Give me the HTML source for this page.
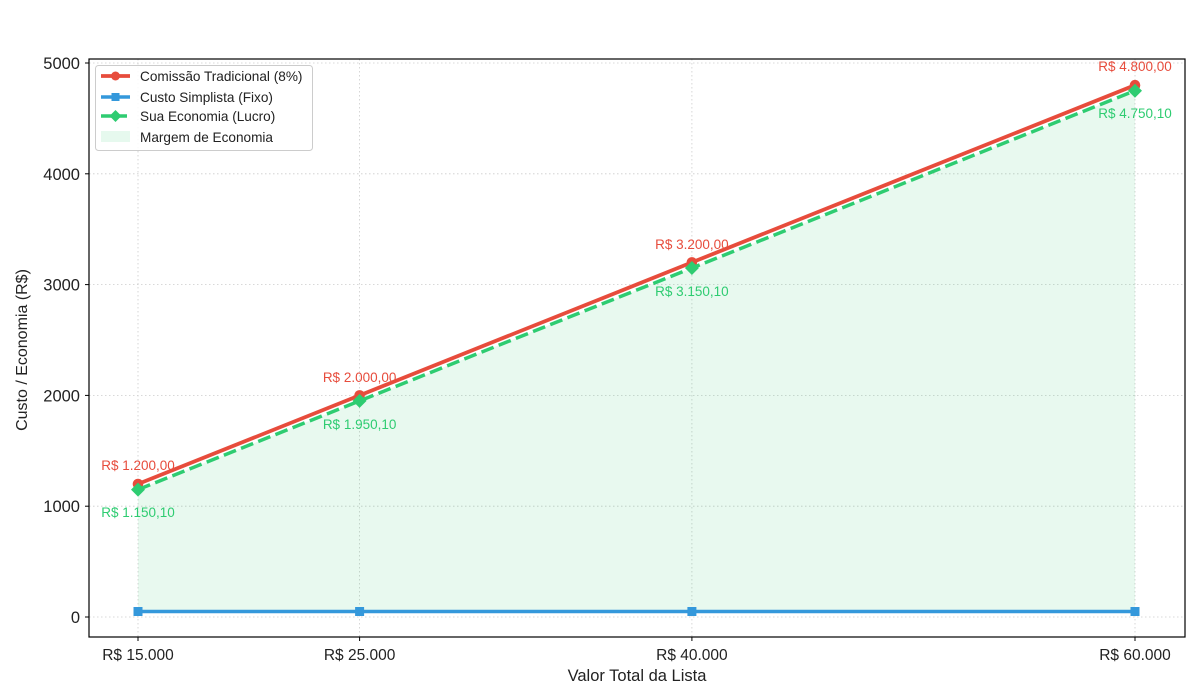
<!DOCTYPE html>
<html><head><meta charset="utf-8"><style>
html,body{margin:0;padding:0;background:#fff;}
svg{display:block;font-family:"Liberation Sans",sans-serif;}
</style></head><body>
<svg width="1200" height="700" viewBox="0 0 1200 700" xmlns="http://www.w3.org/2000/svg">
<rect width="1200" height="700" fill="#fff"/>
<!-- grid -->
<g stroke="#cccccc" stroke-width="0.8" stroke-dasharray="1.5,2.5">
<line x1="138" y1="59" x2="138" y2="637"/>
<line x1="359.6" y1="59" x2="359.6" y2="637"/>
<line x1="691.9" y1="59" x2="691.9" y2="637"/>
<line x1="1135" y1="59" x2="1135" y2="637"/>
<line x1="89" y1="617" x2="1185" y2="617"/>
<line x1="89" y1="506.2" x2="1185" y2="506.2"/>
<line x1="89" y1="395.4" x2="1185" y2="395.4"/>
<line x1="89" y1="284.6" x2="1185" y2="284.6"/>
<line x1="89" y1="173.8" x2="1185" y2="173.8"/>
<line x1="89" y1="63" x2="1185" y2="63"/>
</g>
<!-- fill -->
<polygon points="138,489.6 359.6,400.9 691.9,268 1135,90.7 1135,611.5 691.9,611.5 359.6,611.5 138,611.5" fill="#2ecc71" fill-opacity="0.11"/>
<!-- blue -->
<polyline points="138,611.5 359.6,611.5 691.9,611.5 1135,611.5" fill="none" stroke="#3498db" stroke-width="3.5"/>
<g fill="#3498db">
<rect x="133.5" y="607" width="9" height="9"/>
<rect x="355.1" y="607" width="9" height="9"/>
<rect x="687.4" y="607" width="9" height="9"/>
<rect x="1130.5" y="607" width="9" height="9"/>
</g>
<!-- red -->
<polyline points="138,484 359.6,395.4 691.9,262.4 1135,85.2" fill="none" stroke="#e74c3c" stroke-width="3.8"/>
<g fill="#e74c3c">
<circle cx="138" cy="484" r="5.3"/>
<circle cx="359.6" cy="395.4" r="5.3"/>
<circle cx="691.9" cy="262.4" r="5.3"/>
<circle cx="1135" cy="85.2" r="5.3"/>
</g>
<!-- green -->
<polyline points="138,489.6 359.6,400.9 691.9,268 1135,90.7" fill="none" stroke="#2ecc71" stroke-width="3.5" stroke-dasharray="13,5.5"/>
<g fill="#2ecc71">
<polygon points="138,482.6 145,489.6 138,496.6 131,489.6"/>
<polygon points="359.6,393.9 366.6,400.9 359.6,407.9 352.6,400.9"/>
<polygon points="691.9,261 698.9,268 691.9,275 684.9,268"/>
<polygon points="1135,83.7 1142,90.7 1135,97.7 1128,90.7"/>
</g>
<!-- data labels -->
<g font-size="13.5" text-anchor="middle" fill="#e74c3c">
<text x="138" y="470">R$ 1.200,00</text>
<text x="359.6" y="382">R$ 2.000,00</text>
<text x="691.9" y="249">R$ 3.200,00</text>
<text x="1135" y="71">R$ 4.800,00</text>
</g>
<g font-size="13.5" text-anchor="middle" fill="#2ecc71">
<text x="138" y="517">R$ 1.150,10</text>
<text x="359.6" y="429">R$ 1.950,10</text>
<text x="691.9" y="296">R$ 3.150,10</text>
<text x="1135" y="118">R$ 4.750,10</text>
</g>
<!-- axes frame -->
<rect x="89" y="59" width="1096" height="578" fill="none" stroke="#000" stroke-width="1.2"/>
<!-- ticks -->
<g stroke="#000" stroke-width="1">
<line x1="138" y1="637" x2="138" y2="641"/>
<line x1="359.6" y1="637" x2="359.6" y2="641"/>
<line x1="691.9" y1="637" x2="691.9" y2="641"/>
<line x1="1135" y1="637" x2="1135" y2="641"/>
<line x1="85" y1="617" x2="89" y2="617"/>
<line x1="85" y1="506.2" x2="89" y2="506.2"/>
<line x1="85" y1="395.4" x2="89" y2="395.4"/>
<line x1="85" y1="284.6" x2="89" y2="284.6"/>
<line x1="85" y1="173.8" x2="89" y2="173.8"/>
<line x1="85" y1="63" x2="89" y2="63"/>
</g>
<g font-size="15.5" fill="#222" text-anchor="middle">
<text x="138" y="660">R$ 15.000</text>
<text x="359.6" y="660">R$ 25.000</text>
<text x="691.9" y="660">R$ 40.000</text>
<text x="1135" y="660">R$ 60.000</text>
</g>
<g font-size="16.5" fill="#222" text-anchor="end">
<text x="80" y="623">0</text>
<text x="80" y="512.2">1000</text>
<text x="80" y="401.4">2000</text>
<text x="80" y="290.6">3000</text>
<text x="80" y="179.8">4000</text>
<text x="80" y="69">5000</text>
</g>
<text x="637" y="681" font-size="16.5" fill="#222" text-anchor="middle">Valor Total da Lista</text>
<text transform="translate(27,350) rotate(-90)" font-size="16" fill="#222" text-anchor="middle">Custo / Economia (R$)</text>
<!-- legend -->
<rect x="95.5" y="65.5" width="217" height="85" rx="3" fill="#fff" fill-opacity="0.85" stroke="#cccccc" stroke-width="1"/>
<line x1="101" y1="76" x2="130" y2="76" stroke="#e74c3c" stroke-width="3.8"/>
<circle cx="115.5" cy="76" r="4.5" fill="#e74c3c"/>
<line x1="101" y1="97" x2="130" y2="97" stroke="#3498db" stroke-width="3.5"/>
<rect x="111.5" y="93" width="8" height="8" fill="#3498db"/>
<line x1="101" y1="116" x2="130" y2="116" stroke="#2ecc71" stroke-width="3.5" stroke-dasharray="11,4"/>
<polygon points="115.5,110 121.5,116 115.5,122 109.5,116" fill="#2ecc71"/>
<rect x="101" y="131" width="29" height="11" fill="#2ecc71" fill-opacity="0.12"/>
<g font-size="13.6" fill="#222">
<text x="140" y="81">Comissão Tradicional (8%)</text>
<text x="140" y="102">Custo Simplista (Fixo)</text>
<text x="140" y="121">Sua Economia (Lucro)</text>
<text x="140" y="142">Margem de Economia</text>
</g>
</svg>
</body></html>
